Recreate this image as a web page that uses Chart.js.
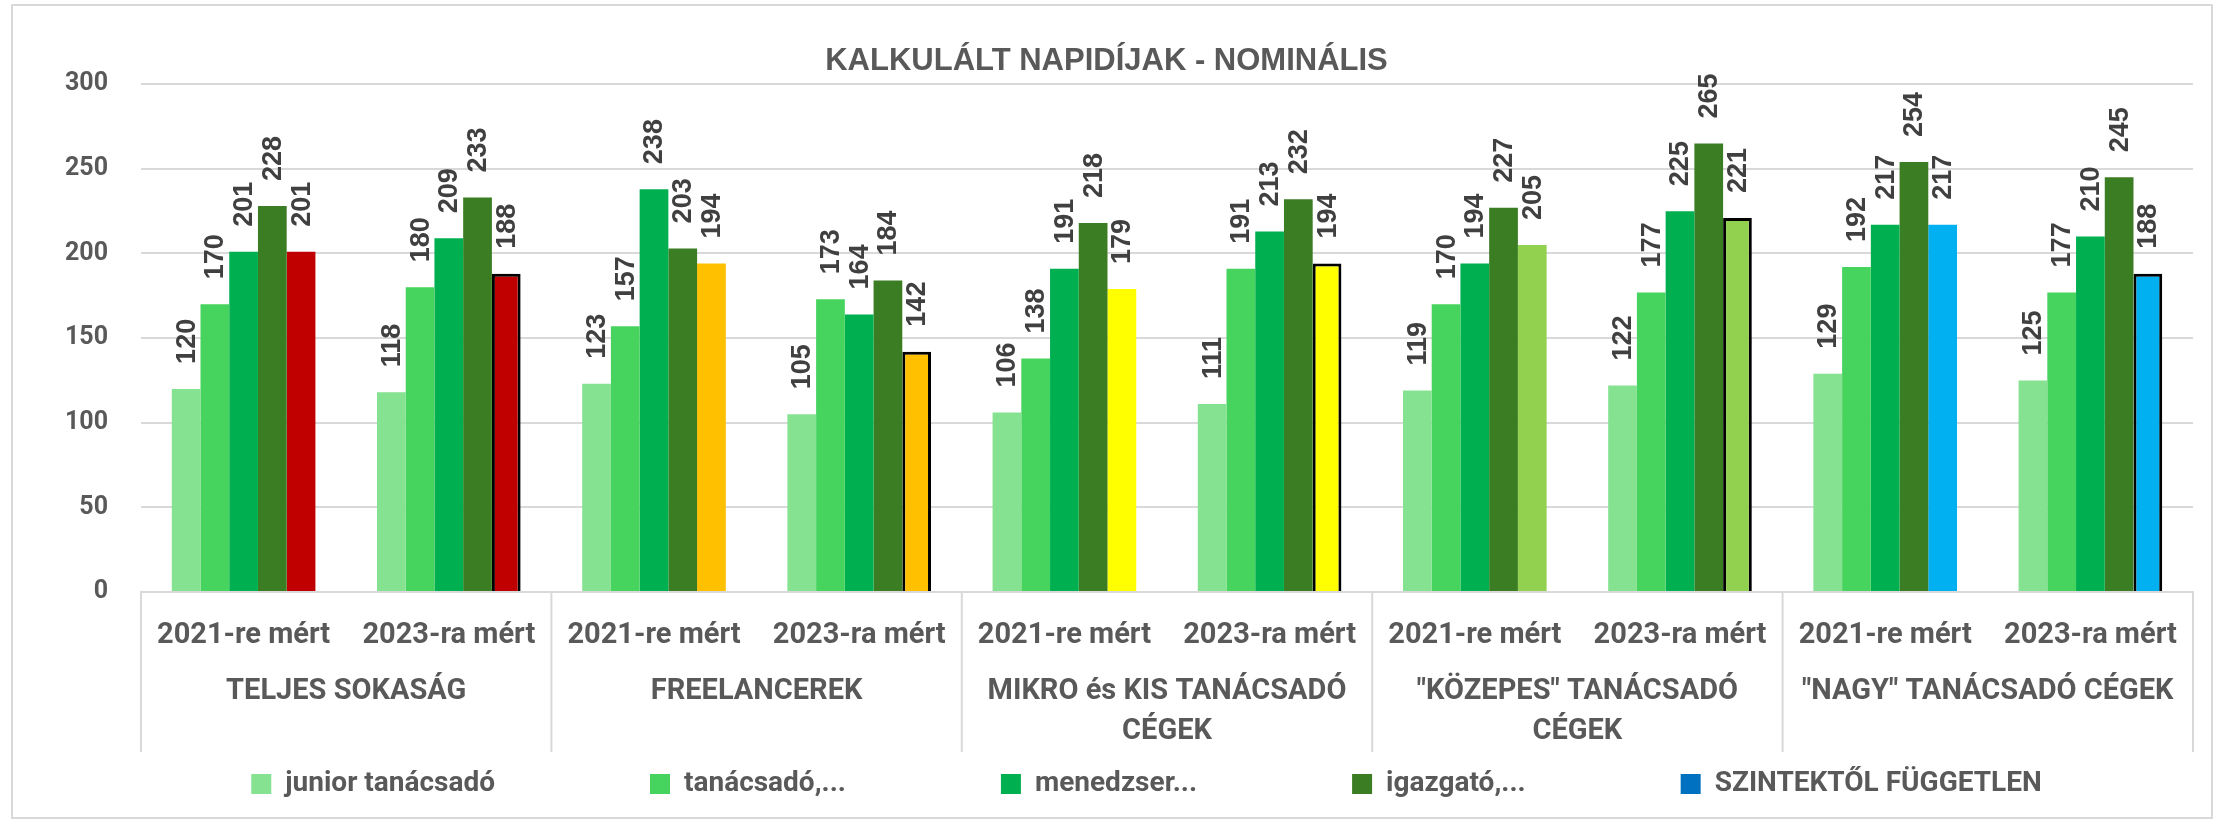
<!DOCTYPE html>
<html>
<head>
<meta charset="utf-8">
<script src="https://cdn.jsdelivr.net/npm/chart.js@4.4.1/dist/chart.umd.min.js"></script>
<style>
html,body{margin:0;padding:0;background:#fff;}
#wrap{width:2216px;height:822px;position:relative;}
</style>
</head>
<body>
<div id="wrap"><canvas id="c" width="2216" height="822"></canvas></div>
<script>
// ---- data ----
const categories = ['2021-re mért','2023-ra mért','2021-re mért','2023-ra mért','2021-re mért','2023-ra mért','2021-re mért','2023-ra mért','2021-re mért','2023-ra mért'];
const groupLabels = [['TELJES SOKASÁG'], ['FREELANCEREK'], ['MIKRO és KIS TANÁCSADÓ','CÉGEK'], ['"KÖZEPES" TANÁCSADÓ','CÉGEK'], ['"NAGY" TANÁCSADÓ CÉGEK']];
const seriesNames = ['junior tanácsadó','tanácsadó,...','menedzser...','igazgató,...','SZINTEKTŐL FÜGGETLEN'];
const juniorValues    = [120,118,123,105,106,111,119,122,129,125];
const tanacsadoValues = [170,180,157,173,138,191,170,177,192,177];
const menedzserValues = [201,209,238,164,191,213,194,225,217,210];
const igazgatoValues  = [228,233,203,184,218,232,227,265,254,245];
const fuggetlenValues = [201,188,194,142,179,194,205,221,217,188];
const yTicks = [0,50,100,150,200,250,300];
const chartTitle = 'KALKULÁLT NAPIDÍJAK - NOMINÁLIS';

// ---- styles ----
const seriesColors = ['#85E290','#47D45E','#00B050','#3B7D23'];
const groupColors = ['#C00000','#FFC000','#FFFF00','#92D050','#00B0F0'];
const legendColors = ['#85E290','#47D45E','#00B050','#3B7D23','#0070C0'];
const fuggetlenBarColors = categories.map((c, i) => groupColors[Math.floor(i / 2)]);
const fuggetlenBorderWidths = categories.map((c, i) => (i % 2 === 1 ? 3 : 0));
const TXT = '#595959';
const GRID = '#D9D9D9';
const NARROW = '"Liberation Sans Narrow", "Arial Narrow", "Liberation Sans", sans-serif';
const LEGEND_PAD = 155;
const LEGEND_FONT = 28;

const frame = {
  id: 'frame',
  beforeDraw(chart) {
    const ctx = chart.ctx;
    ctx.save();
    ctx.fillStyle = '#fff';
    ctx.fillRect(0, 0, chart.width, chart.height);
    ctx.strokeStyle = GRID;
    ctx.lineWidth = 2;
    ctx.strokeRect(12, 5, chart.width - 16, chart.height - 9);
    ctx.restore();
  }
};

// place the legend row below the two-level category axis
const legendPlace = {
  id: 'legendPlace',
  afterLayout(chart) {
    const lg = chart.legend;
    if (!lg) return;
    lg.left += 40; lg.right += 40;
    const rowCenter = chart.chartArea.bottom + 192;
    lg.top = rowCenter - LEGEND_PAD - LEGEND_FONT / 2;
    lg.bottom = lg.top + LEGEND_PAD + LEGEND_FONT + 10;
  }
};

const groupAxis = {
  id: 'groupAxis',
  afterDraw(chart) {
    const ctx = chart.ctx;
    const xs = chart.scales.x;
    const bottom = chart.chartArea.bottom;
    const cw = (xs.right - xs.left) / categories.length;
    ctx.save();
    ctx.strokeStyle = GRID;
    ctx.lineWidth = 2;
    for (let g = 0; g <= groupLabels.length; g++) {
      const x = xs.left + g * 2 * cw;
      ctx.beginPath();
      ctx.moveTo(x, bottom);
      ctx.lineTo(x, bottom + 160);
      ctx.stroke();
    }
    ctx.fillStyle = TXT;
    ctx.font = 'bold 29px Roboto, sans-serif';
    ctx.textAlign = 'center';
    ctx.textBaseline = 'middle';
    groupLabels.forEach((lines, g) => {
      const cx = (xs.getPixelForValue(2 * g) + xs.getPixelForValue(2 * g + 1)) / 2;
      lines.forEach((t, k) => ctx.fillText(t, cx, bottom + 100 + k * 40));
    });
    ctx.restore();
  }
};

const valueLabels = {
  id: 'valueLabels',
  afterDatasetsDraw(chart) {
    const ctx = chart.ctx;
    ctx.save();
    ctx.font = 'bold 27px ' + NARROW;
    ctx.fillStyle = '#404040';
    ctx.textAlign = 'left';
    ctx.textBaseline = 'middle';
    chart.data.datasets.forEach((ds, di) => {
      const meta = chart.getDatasetMeta(di);
      meta.data.forEach((bar, i) => {
        ctx.save();
        ctx.translate(bar.x + 1, bar.y - 25);
        ctx.rotate(-Math.PI / 2);
        ctx.fillText(String(ds.data[i]), 0, 0);
        ctx.restore();
      });
    });
    ctx.restore();
  }
};

const datasets = [
  {label: seriesNames[0], data: juniorValues, backgroundColor: seriesColors[0]},
  {label: seriesNames[1], data: tanacsadoValues, backgroundColor: seriesColors[1]},
  {label: seriesNames[2], data: menedzserValues, backgroundColor: seriesColors[2]},
  {label: seriesNames[3], data: igazgatoValues, backgroundColor: seriesColors[3]},
  {label: seriesNames[4], data: fuggetlenValues, backgroundColor: fuggetlenBarColors,
   borderColor: '#000000', borderWidth: fuggetlenBorderWidths, borderSkipped: 'start'}
];

new Chart(document.getElementById('c'), {
  type: 'bar',
  data: {labels: categories, datasets},
  options: {
    responsive: false,
    animation: false,
    devicePixelRatio: 1,
    categoryPercentage: 0.7,
    barPercentage: 1.0,
    layout: {padding: {left: 20, right: 23, top: 41, bottom: 111}},
    plugins: {
      title: {
        display: true, text: chartTitle, color: TXT,
        font: {family: NARROW, size: 31, weight: 'bold'},
        padding: {top: 2, bottom: 4}
      },
      legend: {
        display: true, position: 'bottom', align: 'center', maxHeight: 60,
        labels: {
          color: TXT, boxWidth: 20, boxHeight: 20, padding: LEGEND_PAD,
          font: {family: 'Roboto, sans-serif', size: LEGEND_FONT, weight: 'bold'},
          generateLabels(chart) {
            const items = Chart.defaults.plugins.legend.labels.generateLabels(chart);
            items.forEach((it, i) => { it.fillStyle = legendColors[i]; it.strokeStyle = legendColors[i]; it.lineWidth = 0; });
            return items;
          }
        }
      },
      tooltip: {enabled: false}
    },
    scales: {
      x: {
        grid: {display: false},
        border: {display: true, color: GRID, width: 2},
        ticks: {color: TXT, font: {family: 'Roboto, sans-serif', size: 29, weight: 'bold'}, padding: 18, maxRotation: 0, autoSkip: false},
        afterFit(scale) { scale.height = 59; }
      },
      y: {
        min: 0, max: 300,
        afterBuildTicks(scale) { scale.ticks = yTicks.map(v => ({value: v})); },
        grid: {color: GRID, lineWidth: 2, drawTicks: false},
        border: {display: false},
        ticks: {color: TXT, font: {family: 'Roboto, sans-serif', size: 25, weight: 'bold'}, padding: 33},
        afterFit(scale) { scale.width = 121; }
      }
    }
  },
  plugins: [frame, legendPlace, groupAxis, valueLabels]
});
</script>
</body>
</html>
